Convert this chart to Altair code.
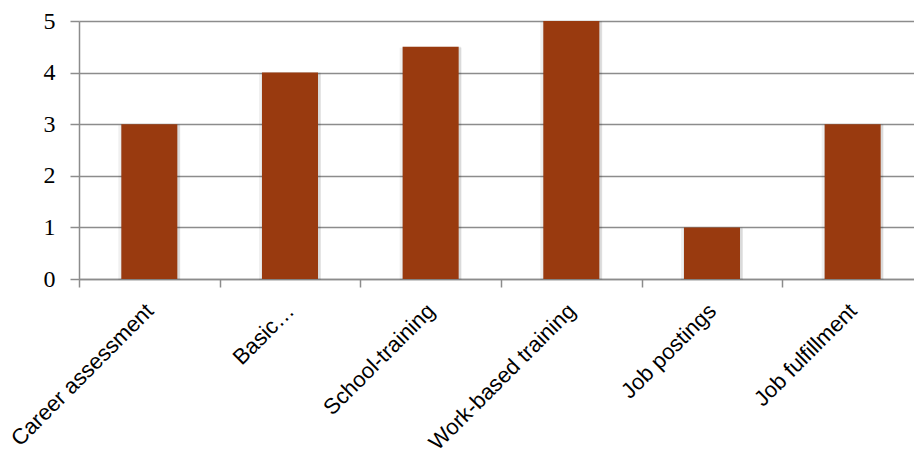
import altair as alt
import pandas as pd

# Service categories and their scores
categories = [
    "Career assessment",
    "Basic…",
    "School-training",
    "Work-based training",
    "Job postings",
    "Job fulfillment",
]
scores = [3, 4, 4.5, 5, 1, 3]

df = pd.DataFrame({"category": categories, "score": scores})

BAR_COLOR = "#993A0F"
GRID_COLOR = "#8C8C8C"

x_enc = alt.X(
    "category:N",
    sort=categories,
    scale=alt.Scale(paddingInner=0, paddingOuter=0, range=[0, 844]),
    axis=alt.Axis(
        title=None,
        labelAngle=-45,
        labelAlign="right",
        labelBaseline="middle",
        labelFont="Liberation Sans",
        labelFontSize=22,
        labelColor="#000000",
        labelPadding=20,
        labelLimit=400,
        labelOverlap=False,
        tickBand="extent",
        tickSize=8,
        tickColor=GRID_COLOR,
        tickWidth=1.5,
        domainColor=GRID_COLOR,
        domainWidth=1.5,
        grid=False,
    ),
)

y_enc = alt.Y(
    "score:Q",
    scale=alt.Scale(domain=[0, 5], nice=False),
    axis=alt.Axis(
        title=None,
        values=[0, 1, 2, 3, 4, 5],
        labelFont="Liberation Serif",
        labelFontSize=24,
        labelColor="#000000",
        labelPadding=15,
        tickSize=9,
        tickColor=GRID_COLOR,
        tickWidth=1.5,
        gridColor=GRID_COLOR,
        gridWidth=1.5,
        domainColor=GRID_COLOR,
        domainWidth=1.5,
    ),
)

# soft drop shadow under each bar
shadow_outer = alt.Chart(df).mark_bar(
    size=62, color="#000000", opacity=0.06, y2Offset=3, yOffset=1
).encode(x=x_enc, y=y_enc)
shadow_inner = alt.Chart(df).mark_bar(
    size=59, color="#000000", opacity=0.09, y2Offset=2, xOffset=1
).encode(x=x_enc, y=y_enc)

bars = alt.Chart(df).mark_bar(size=56, color=BAR_COLOR).encode(x=x_enc, y=y_enc)

chart = (
    alt.layer(shadow_outer, shadow_inner, bars)
    .properties(
        width=835,
        height=258,
        autosize=alt.AutoSizeParams(type="none"),
        padding={"left": 79, "top": 21, "right": 0, "bottom": 170},
        background="#ffffff",
    )
    .configure_view(stroke=None)
)

chart.save("out.html", embed_options={"renderer": "svg", "actions": False})
